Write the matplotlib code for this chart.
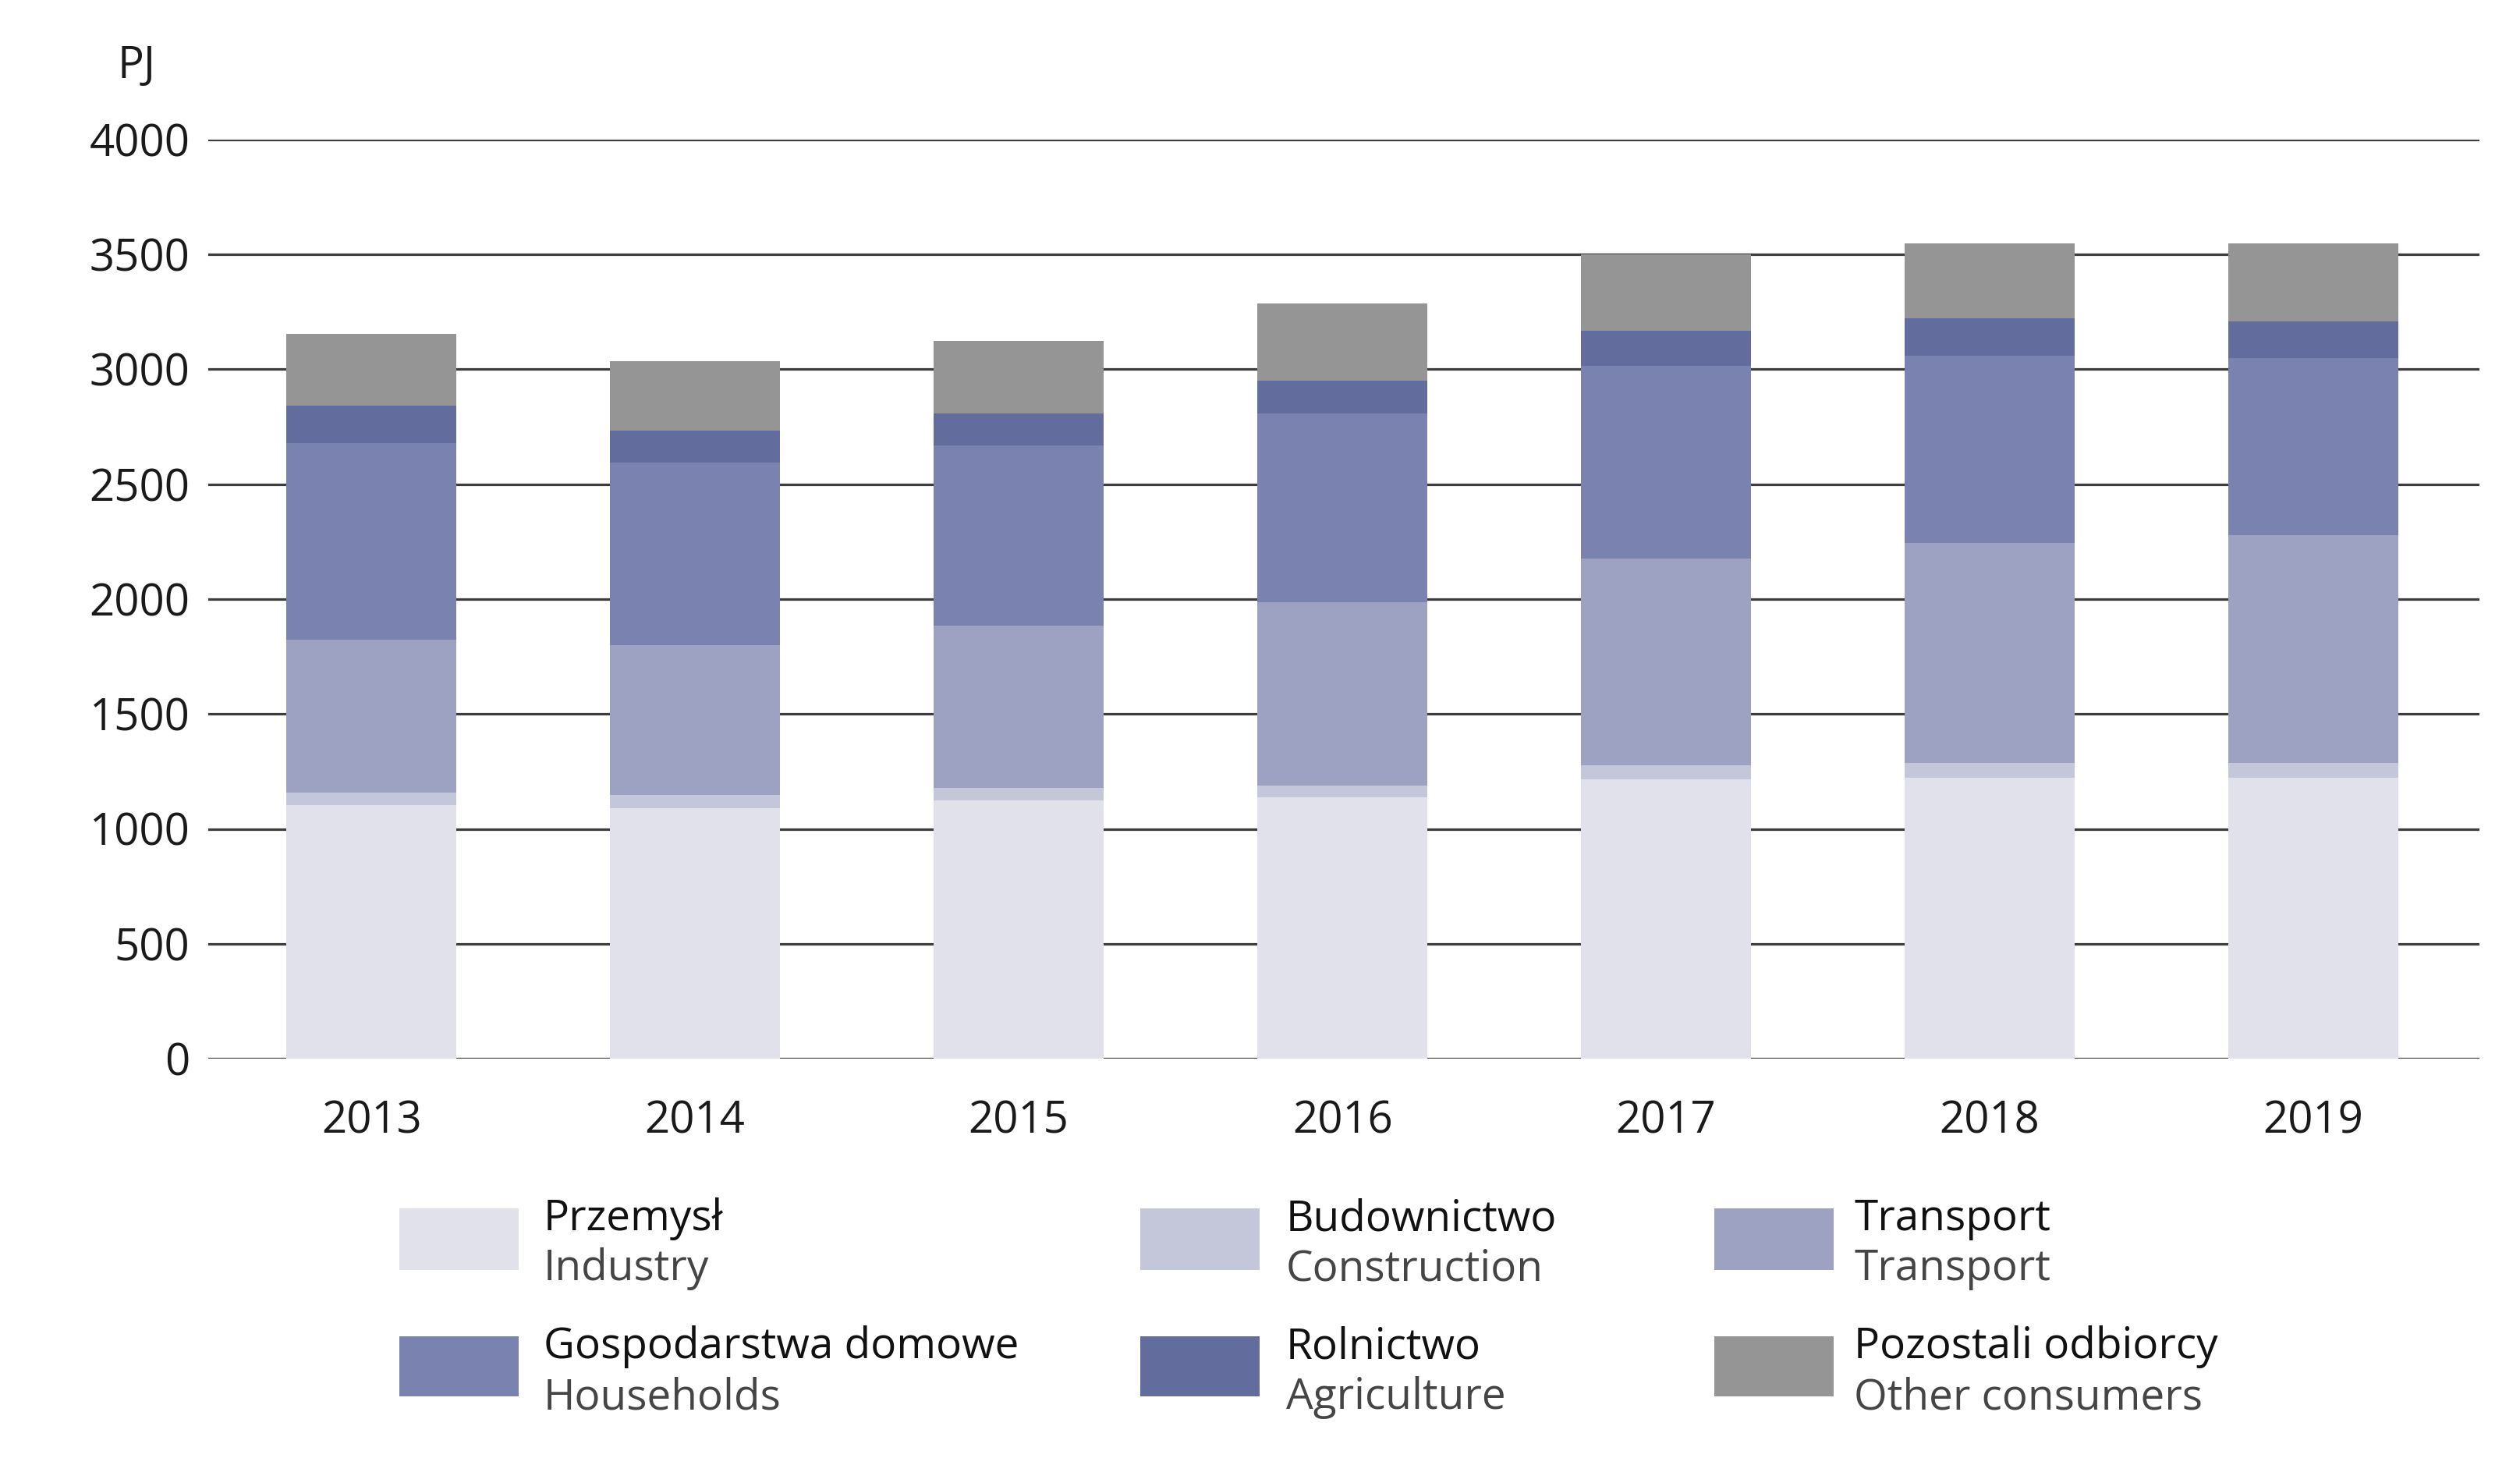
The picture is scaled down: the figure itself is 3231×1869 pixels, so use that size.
import matplotlib
matplotlib.use("Agg")
import matplotlib.pyplot as plt
from matplotlib.patches import Rectangle
import numpy as np

plt.rcParams['font.family'] = ['Open Sans', 'DejaVu Sans']

years = ["2013", "2014", "2015", "2016", "2017", "2018", "2019"]
industry = [1103, 1091, 1124, 1136, 1214, 1222, 1222]
construction = [55, 57, 55, 54, 63, 66, 66]
transport = [664, 651, 707, 795, 901, 956, 989]
households = [858, 795, 782, 822, 838, 815, 772]
agriculture = [162, 139, 139, 143, 153, 164, 160]
other = [313, 303, 316, 336, 331, 324, 338]

series = [industry, construction, transport, households, agriculture, other]
labels_pl = ["Przemysł", "Budownictwo", "Transport", "Gospodarstwa domowe", "Rolnictwo", "Pozostali odbiorcy"]
labels_en = ["Industry", "Construction", "Transport", "Households", "Agriculture", "Other consumers"]
colors = ["#e1e1eb", "#c4c6da", "#9ea2c2", "#7a82af", "#626d9e", "#959595"]

W, H = 3231, 1869
fig = plt.figure(figsize=(W / 100, H / 100), dpi=100)
ax = fig.add_axes([267 / W, 1 - 1357 / H, (3179 - 267) / W, (1357 - 179) / H])

x = np.arange(len(years))
bottom = np.zeros(len(years))
for vals, col in zip(series, colors):
    ax.bar(x, vals, bottom=bottom, width=0.525, color=col, zorder=3, linewidth=0)
    bottom += np.array(vals)

ax.set_ylim(0, 4000)
ax.set_xlim(-0.504, 6.513)
ax.set_yticks(range(0, 4001, 500))
ax.yaxis.grid(True, color="#3c3c3c", linewidth=2.3, zorder=1)
ax.set_axisbelow(True)
for s in ax.spines.values():
    s.set_visible(False)
ax.tick_params(axis="both", length=0, labelsize=40.5, colors="#1a1a1a")
ax.tick_params(axis="y", pad=17)
ax.tick_params(axis="x", pad=38)
ax.set_xticks(x)
ax.set_xticklabels(years)

fig.text(150 / W, 1 - 86 / H, "PJ", fontsize=40.5, color="#1a1a1a", va="center", ha="left")

# legend
col_x = [512, 1462, 2198]
txt_x = [697, 1649, 2377]
row_patch = [(1549, 1628), (1713, 1790)]
row_base = [(1577, 1641), (1741, 1806)]
for i in range(6):
    r, c = divmod(i, 3)
    y0, y1 = row_patch[r]
    fig.add_artist(Rectangle((col_x[c] / W, 1 - y1 / H), 153 / W, (y1 - y0) / H,
                             transform=fig.transFigure, color=colors[i], linewidth=0))
    b1, b2 = row_base[r]
    fig.text(txt_x[c] / W, 1 - b1 / H, labels_pl[i], fontsize=39.5, color="#111111",
             va="baseline", ha="left")
    fig.text(txt_x[c] / W, 1 - b2 / H, labels_en[i], fontsize=39.5, color="#454545",
             va="baseline", ha="left")

fig.savefig("out.png", dpi=100, facecolor="white")
